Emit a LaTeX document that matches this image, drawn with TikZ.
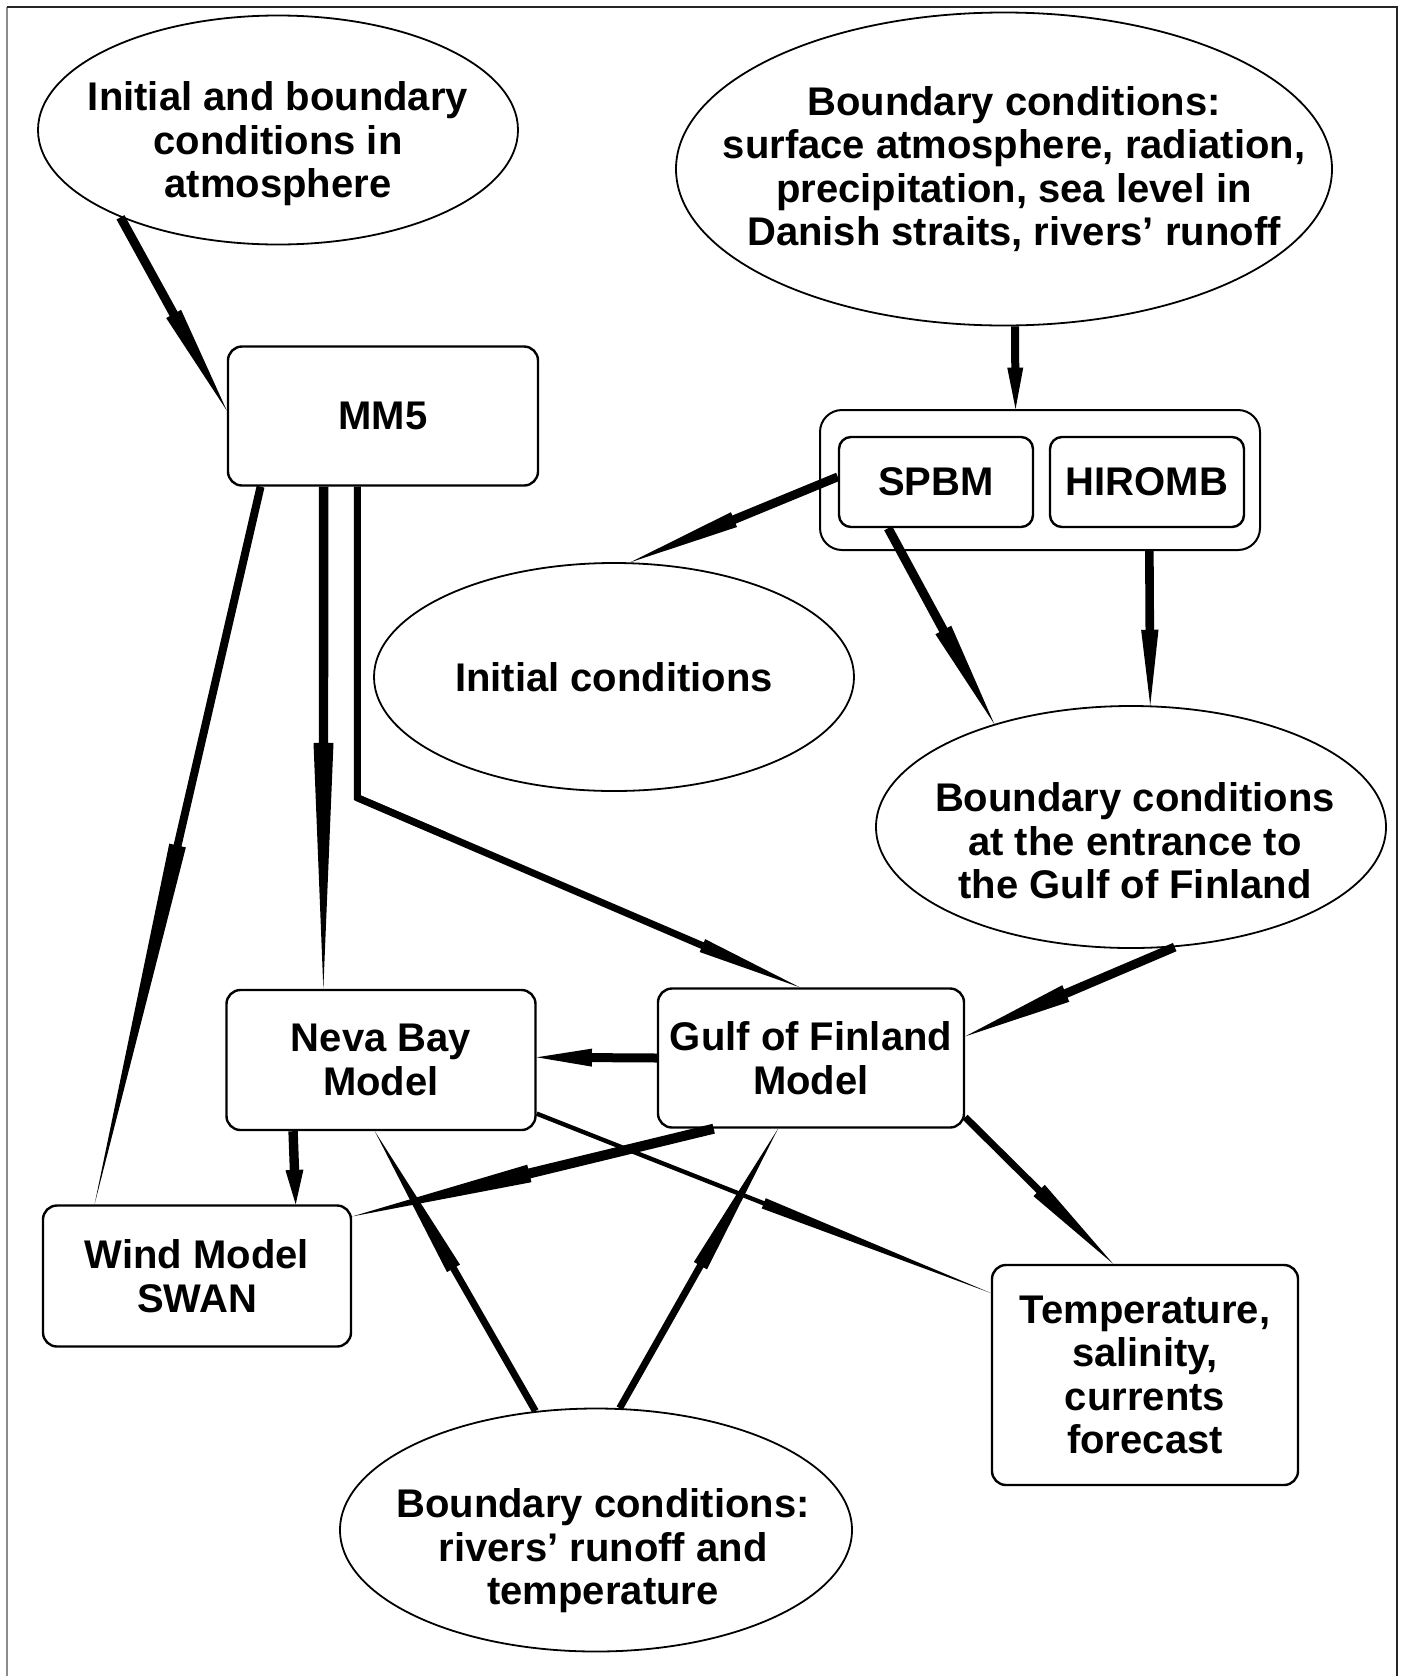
\documentclass[tikz,border=0pt]{standalone}
\usepackage{fontspec}
\setmainfont{Liberation Sans}
\usetikzlibrary{shapes.geometric,calc}

\newcommand{\boxfont}{\fontsize{40}{43.5}\selectfont\bfseries}

% tapered connector with a barb: start, end, half width, barb half width, barb position
\newcommand{\flowarrow}[5]{%
  \fill ($(#1)!#3pt!90:(#2)$) -- ($(#1)!#5!(#2)!#3pt!90:(#2)$)
     -- ($(#1)!#5!(#2)!#4pt!90:(#2)$) -- (#2)
     -- ($(#1)!#5!(#2)!#4pt!-90:(#2)$) -- ($(#1)!#5!(#2)!#3pt!-90:(#2)$)
     -- ($(#1)!#3pt!-90:(#2)$) -- cycle;}

\tikzset{
  modelbox/.style={draw, line width=2.4pt, rounded corners=14pt, align=center, inner sep=2pt, font=\boxfont},
  datanode/.style={draw, ellipse, line width=1.8pt, inner sep=0pt},
  caption/.style={align=center, inner sep=0pt, font=\boxfont},
}

\begin{document}
\begin{tikzpicture}[x=1pt,y=1pt,yscale=-1,xscale=1]
\useasboundingbox (0,0) rectangle (1403,1676);

%Frame
\draw [line width=2pt, black!45] (7,1676) -- (7,7) ;
\draw [line width=1.5pt, black!85] (7,7) -- (1397,7) -- (1397,1676) ;

%Ellipses
\node [datanode, minimum width=480pt, minimum height=229pt] (atmos) at (278,130) {};
\node [datanode, minimum width=656pt, minimum height=313pt] (surface) at (1004,169) {};
\node [datanode, minimum width=480pt, minimum height=228pt] (initc) at (614,677) {};
\node [datanode, minimum width=510pt, minimum height=242pt] (entrance) at (1131,827) {};
\node [datanode, minimum width=512pt, minimum height=243pt] (rivers) at (596,1530) {};

%Boxes
\node [modelbox, minimum width=310pt, minimum height=139pt] (mmfive) at (383,416) {MM5};
\node [draw, line width=2pt, rounded corners=22pt, minimum width=440pt, minimum height=140pt] (models) at (1040,480) {};
\node [modelbox, rounded corners=12pt, minimum width=194pt, minimum height=90pt] (spbm) at (936,482) {SPBM};
\node [modelbox, rounded corners=12pt, minimum width=194pt, minimum height=90pt] (hiromb) at (1147,482) {HIROMB};
\node [modelbox, minimum width=309pt, minimum height=140pt] (neva) at (381,1060) {Neva Bay\\Model};
\node [modelbox, minimum width=306pt, minimum height=139pt] (gulf) at (811,1058) {Gulf of Finland\\Model};
\node [modelbox, minimum width=308pt, minimum height=141pt] (wind) at (197,1276) {Wind Model\\SWAN};
\node [modelbox, minimum width=306pt, minimum height=220pt] (forecast) at (1145,1375) {Temperature,\\salinity,\\currents\\forecast};

% Text Node
\node [caption] (atmostext) at ($(atmos)+(0,14)$) {Initial and boundary\\conditions in\\atmosphere};
% Text Node
\node [caption] (surfacetext) at ($(surface)+(10,0)$) {Boundary conditions:\\surface atmosphere, radiation,\\precipitation, sea level in\\Danish straits, rivers’ runoff};
% Text Node
\node [caption] (initctext) at (initc) {Initial conditions};
% Text Node
\node [caption] (entrancetext) at ($(entrance)+(4,14)$) {Boundary conditions\\at the entrance to\\the Gulf of Finland};
% Text Node
\node [caption] (riverstext) at ($(rivers)+(7,21)$) {Boundary conditions:\\rivers’ runoff and\\temperature};

%Connectors
\flowarrow{atmos.209}{mmfive.178}{4.5}{8.5}{0.5}
\flowarrow{surface.274}{models.109}{4}{8}{0.5}
\flowarrow{spbm.177}{initc.82}{4.4}{8}{0.5}
\flowarrow{spbm.224}{entrance.143}{4.5}{9}{0.52}
\flowarrow{models.327}{entrance.81}{4.3}{8.7}{0.51}
\flowarrow{entrance.290}{gulf.8}{4.5}{9}{0.52}
\flowarrow{mmfive.210}{wind.145}{4}{8.5}{0.5}
\flowarrow{mmfive.230}{neva.129}{4.7}{10}{0.51}
%Elbow from MM5 to the Gulf model
\coordinate (bend) at ($(mmfive.250)+(0,311)$);
\draw [line width=7pt, line join=miter] (mmfive.250) -- (bend) -- ($(bend)!0.2!(gulf.99)$) ;
\flowarrow{bend}{gulf.99}{3.5}{7}{0.78}
\flowarrow{gulf.180}{neva.1}{4.5}{9}{0.54}
\flowarrow{neva.219}{wind.36}{4.7}{9}{0.53}
\flowarrow{gulf.216}{wind.21}{5}{9}{0.51}
\flowarrow{neva.341}{forecast.152}{2.2}{5.5}{0.5}
\flowarrow{gulf.339}{forecast.106}{3.5}{8}{0.5}
\flowarrow{rivers.117}{neva.265}{3.5}{7.5}{0.51}
\flowarrow{rivers.79}{gulf.245}{3.5}{7.5}{0.51}

\end{tikzpicture}
\end{document}
